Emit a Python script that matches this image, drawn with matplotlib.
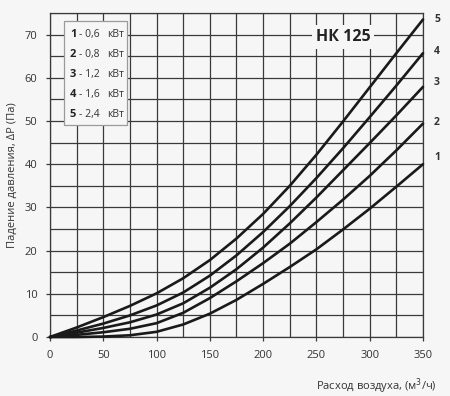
import matplotlib
matplotlib.use("Agg")
import matplotlib.pyplot as plt
from matplotlib.ticker import MultipleLocator
from matplotlib.patches import Rectangle

plt.rcParams['font.family'] = ['Open Sans', 'DejaVu Sans']

airflow = [0, 25, 50, 75, 100, 125, 150, 175, 200, 225, 250, 275, 300, 325, 350]
dp_1 = [0, 0, 0.1, 0.4, 1.2, 2.9, 5.4, 8.6, 12.3, 16.2, 20.3, 24.9, 29.7, 34.8, 40.0]
dp_2 = [0, 0.5, 1.1, 1.9, 3.2, 5.6, 9.0, 12.9, 17.1, 21.6, 26.6, 31.8, 37.3, 43.2, 49.4]
dp_3 = [0, 1.0, 2.1, 3.4, 5.2, 7.8, 11.4, 15.7, 20.7, 26.3, 32.3, 38.6, 44.9, 51.3, 57.9]
dp_4 = [0, 1.5, 3.1, 5.0, 7.3, 10.3, 14.2, 18.9, 24.3, 30.3, 36.8, 43.7, 50.9, 58.2, 65.7]
dp_5 = [0, 2.2, 4.6, 7.2, 10.1, 13.6, 17.8, 22.8, 28.5, 35.0, 42.2, 49.9, 57.8, 65.7, 73.5]
curve_ids = ['1', '2', '3', '4', '5']
powers = ['0,6', '0,8', '1,2', '1,6', '2,4']
model = 'НК 125'

bg = '#f6f6f6'
gridc = '#3a3a3a'
fig = plt.figure(figsize=(4.5, 3.96), dpi=100, facecolor=bg)
ax = fig.add_axes([50/450, 1-337/396, 373/450, 324/396])
ax.set_facecolor(bg)
ax.set_xlim(0, 350)
ax.set_ylim(0, 75)
ax.xaxis.set_major_locator(MultipleLocator(50))
ax.xaxis.set_minor_locator(MultipleLocator(25))
ax.yaxis.set_major_locator(MultipleLocator(10))
ax.yaxis.set_minor_locator(MultipleLocator(5))
ax.grid(True, which='both', color=gridc, linewidth=0.9, zorder=1)
ax.set_axisbelow(True)
for s in ax.spines.values():
    s.set_color(gridc)
    s.set_linewidth(0.9)
ax.tick_params(which='major', length=3, width=0.9, color=gridc, labelsize=8,
               labelcolor='#333333', pad=6)
ax.tick_params(which='minor', length=0)

series = [dp_1, dp_2, dp_3, dp_4, dp_5]
dy = [5, 1, 3, 1, 0]
for cid, vals, d in zip(curve_ids, series, dy):
    ax.plot(airflow, vals, color='#1a1a1a', linewidth=1.9, zorder=3,
            solid_capstyle='round', solid_joinstyle='round', clip_on=False)
    ax.annotate(cid, xy=(airflow[-1], vals[-1]), xytext=(8, d),
                textcoords='offset points', fontsize=7.5, fontweight='bold',
                color='#333333', va='center', ha='left', annotation_clip=False)

box = Rectangle((64/450, 1-125/396), 63/450, 104/396, transform=fig.transFigure,
                facecolor=bg, edgecolor='#9a9a9a', linewidth=0.9, zorder=5)
fig.patches.append(box)
for i, (cid, p) in enumerate(zip(curve_ids, powers)):
    y = 1 - (34.5 + 20.1*i)/396
    fig.text(70/450, y, cid, fontsize=8, fontweight='bold', color='#222222',
             va='center', ha='left', zorder=6)
    fig.text(79/450, y, f"- {p}", fontsize=7.5, color='#333333',
             va='center', ha='left', zorder=6)
    fig.text(107/450, y, "кВт", fontsize=7.5, color='#333333',
             va='center', ha='left', zorder=6)

fig.text(343/450, 1-37/396, model, fontsize=11.5, fontweight='bold', color='#222222',
         ha='center', va='center', zorder=6,
         bbox=dict(boxstyle='square,pad=0.25', facecolor=bg, edgecolor='none'))

ax.set_ylabel('Падение давления, ΔP (Па)', fontsize=8, color='#333333', labelpad=5)
fig.text(437/450, 1-386/396, 'Расход воздуха, (м$^{3}$/ч)', fontsize=8,
         color='#333333', ha='right', va='center')

fig.savefig('out.png', dpi=100, facecolor=bg)
